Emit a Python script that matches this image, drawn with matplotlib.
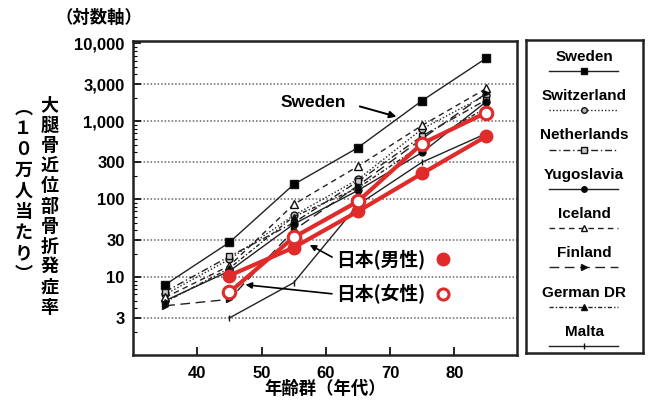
import numpy as np
import matplotlib
matplotlib.use("Agg")
import matplotlib.pyplot as plt
from matplotlib.ticker import FixedLocator, FixedFormatter, LogLocator, NullFormatter

# 年齢群（年代）
ages = [35, 45, 55, 65, 75, 85]

# 各国の大腿骨近位部骨折発症率（10万人当たり）
sweden = [8, 28, 155, 460, 1850, 6500]
switzerland = [6, 17, 62, 180, 800, 2200]
netherlands = [6.5, 18.5, 50, 170, 650, 1900]
yugoslavia = [5, 12, 48, 130, 400, 1800]
iceland = [5.5, 14, 86, 265, 890, 2650]
finland = [4.3, 5.2, 40, 150, 600, 2300]
german_dr = [4.8, 13, 60, 140, 500, 1500]
malta = [np.nan, 3, 8.5, 85, 300, 700]
japan_m = [np.nan, 10.5, 24, 70, 215, 645]
japan_f = [np.nan, 6.4, 32.5, 94, 520, 1300]

countries = ["Sweden", "Switzerland", "Netherlands", "Yugoslavia",
             "Iceland", "Finland", "German DR", "Malta"]
series = [sweden, switzerland, netherlands, yugoslavia,
          iceland, finland, german_dr, malta]

yticks = [3, 10, 30, 100, 300, 1000, 3000, 10000]
ylabels = ["3", "10", "30", "100", "300", "1,000", "3,000", "10,000"]
xticks = [40, 50, 60, 70, 80]

styles = [
    dict(ls="-", marker="s", mfc="black", ms=6, lw=1.0),
    dict(ls=(0, (1, 1.5)), marker="o", mfc="#bbbbbb", ms=5, lw=1.0),
    dict(ls=(0, (5, 2, 1, 2)), marker="s", mfc="#cccccc", ms=5, lw=1.0),
    dict(ls="-", marker="o", mfc="black", ms=5, lw=1.0),
    dict(ls=(0, (4, 3)), marker="^", mfc="white", ms=6, lw=1.0),
    dict(ls=(0, (7, 4)), marker=">", mfc="black", ms=5, lw=1.0),
    dict(ls=(0, (3, 1.5, 1, 1.5)), marker="^", mfc="black", ms=5, lw=1.0),
    dict(ls="-", marker="|", mfc="black", ms=5, lw=1.0),
]

red = "#e02b2b"
num_font = "Liberation Sans"
jp_font = ["Noto Sans CJK JP", "DejaVu Sans"]

fig = plt.figure(figsize=(6.49, 4.04), dpi=100)
ax = fig.add_axes([0.205, 0.121, 0.592, 0.777])

for vals, st in zip(series, styles):
    ax.plot(ages, vals, color="#222222", mec="#111111", zorder=3, **st)

ax.plot(ages, japan_m, color=red, lw=3.0, marker="o", ms=9, mfc=red, mec=red, zorder=5)
ax.plot(ages, japan_f, color=red, lw=3.0, marker="o", ms=9, mfc="white",
        mec=red, mew=2.2, zorder=6)

ax.set_yscale("log")
ax.set_ylim(1, 10700)
ax.set_xlim(30, 89.8)

ax.yaxis.set_major_locator(FixedLocator(yticks))
ax.yaxis.set_major_formatter(FixedFormatter(ylabels))
ax.yaxis.set_minor_locator(LogLocator(base=10, subs=np.arange(2, 10)))
ax.yaxis.set_minor_formatter(NullFormatter())
ax.set_xticks(xticks)

for v in yticks[:-1]:
    ax.axhline(v, color="#666666", lw=1.1, ls=(0, (1, 1.3)), zorder=1)

ax.tick_params(axis="both", which="major", direction="in", length=6, width=1.2,
               labelsize=12, pad=6)
ax.tick_params(axis="y", which="minor", direction="in", length=3, width=0.8)
ax.tick_params(axis="x", which="minor", length=0)
ax.tick_params(axis="x", pad=8)
for lab in ax.get_xticklabels() + ax.get_yticklabels():
    lab.set_fontfamily(num_font)
    lab.set_fontweight("bold")
for sp in ax.spines.values():
    sp.set_linewidth(1.8)
    sp.set_color("#222222")

# 注釈
ax.annotate("Sweden", xy=(71, 1150), xytext=(58.1, 1740),
            fontsize=12.5, fontweight="bold", family=num_font, ha="center", va="center",
            arrowprops=dict(arrowstyle="-|>", color="black", lw=1.4,
                            relpos=(1.0, 0.5), shrinkA=8, shrinkB=0,
                            mutation_scale=10))
ax.annotate("日本(男性)", xy=(57.5, 26), xytext=(61.6, 17),
            fontsize=13.5, fontweight="bold", family=jp_font, ha="left", va="center",
            arrowprops=dict(arrowstyle="-|>", color="black", lw=1.2,
                            relpos=(0.0, 0.5), shrinkA=1, shrinkB=0,
                            mutation_scale=9))
ax.annotate("日本(女性)", xy=(47.5, 8), xytext=(61.6, 6.05),
            fontsize=13.5, fontweight="bold", family=jp_font, ha="left", va="center",
            arrowprops=dict(arrowstyle="-|>", color="black", lw=1.2,
                            relpos=(0.0, 0.5), shrinkA=1, shrinkB=0,
                            mutation_scale=9))
ax.plot([78.2], [17], marker="o", ms=9, color=red, ls="none", zorder=6)
ax.plot([78.2], [6.05], marker="o", ms=8, mfc="white", mec=red, mew=2.2,
        ls="none", zorder=6)

ax.set_xlabel("年齢群（年代）", family=jp_font, fontweight="bold", fontsize=12.5,
              labelpad=-1)

fig.text(0.152, 0.955, "（対数軸）", family=jp_font, fontweight="bold", fontsize=12.5,
         ha="center", va="center")
fig.text(0.076, 0.49, "\n".join("大腿骨近位部骨折発症率"), family=jp_font,
         fontweight="bold", fontsize=13, ha="center", va="center", linespacing=1.08)
fig.text(0.036, 0.527, "\n".join("︵１０万人当たり︶"), family=jp_font,
         fontweight="bold", fontsize=13, ha="center", va="center", linespacing=1.12)

# 凡例ボックス
lax = fig.add_axes([0.810, 0.126, 0.180, 0.775])
lax.set_xlim(0, 1)
lax.set_ylim(0, 1)
lax.set_xticks([])
lax.set_yticks([])
for sp in lax.spines.values():
    sp.set_linewidth(1.8)
    sp.set_color("#222222")
for i, (name, st) in enumerate(zip(countries, styles)):
    ty = 1 - 0.054 - i * 0.1255
    lax.text(0.5, ty, name, ha="center", va="center", fontsize=11,
             fontweight="bold", family=num_font)
    ly = ty - 0.045
    lax.plot([0.2, 0.79], [ly, ly], color="#222222", ls=st["ls"], lw=1.0)
    lax.plot([0.5], [ly], color="#222222", marker=st["marker"], mfc=st["mfc"],
             mec="#111111", ms=st["ms"] - 1, ls="none")

fig.savefig("out.png", dpi=100)
